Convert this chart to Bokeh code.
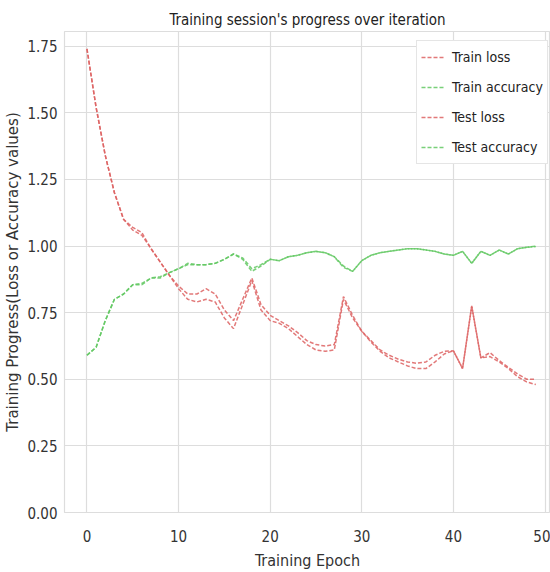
from bokeh.plotting import figure
from bokeh.models import Range1d, Legend, LegendItem, FixedTicker, CustomJSTickFormatter
from bokeh.embed import file_html
from bokeh.resources import INLINE

epochs = list(range(50))
train_loss = [1.74, 1.52, 1.34, 1.20, 1.10, 1.06, 1.04, 0.99, 0.94, 0.89,
              0.84, 0.80, 0.79, 0.80, 0.79, 0.73, 0.69, 0.78, 0.87, 0.76,
              0.72, 0.71, 0.69, 0.66, 0.63, 0.61, 0.605, 0.61, 0.80, 0.73,
              0.68, 0.64, 0.605, 0.58, 0.565, 0.55, 0.54, 0.54, 0.565, 0.595,
              0.607, 0.54, 0.775, 0.58, 0.585, 0.565, 0.54, 0.51, 0.49, 0.48]
test_loss = [1.74, 1.52, 1.34, 1.20, 1.10, 1.07, 1.05, 0.99, 0.94, 0.89,
             0.85, 0.82, 0.82, 0.84, 0.82, 0.76, 0.72, 0.80, 0.88, 0.78,
             0.74, 0.72, 0.70, 0.675, 0.645, 0.63, 0.625, 0.63, 0.81, 0.74,
             0.68, 0.645, 0.61, 0.59, 0.575, 0.565, 0.56, 0.565, 0.59, 0.605,
             0.607, 0.54, 0.775, 0.58, 0.60, 0.57, 0.545, 0.52, 0.50, 0.50]
train_acc = [0.59, 0.62, 0.72, 0.80, 0.82, 0.855, 0.855, 0.88, 0.88, 0.90,
             0.915, 0.93, 0.93, 0.93, 0.935, 0.95, 0.97, 0.955, 0.915, 0.93,
             0.95, 0.945, 0.96, 0.965, 0.975, 0.98, 0.975, 0.96, 0.925, 0.905,
             0.945, 0.965, 0.975, 0.98, 0.985, 0.99, 0.99, 0.985, 0.98, 0.97,
             0.965, 0.98, 0.935, 0.98, 0.965, 0.985, 0.97, 0.99, 0.995, 1.0]
test_acc = [0.59, 0.62, 0.72, 0.80, 0.82, 0.855, 0.86, 0.88, 0.885, 0.90,
            0.915, 0.935, 0.93, 0.93, 0.935, 0.95, 0.97, 0.95, 0.905, 0.925,
            0.95, 0.945, 0.96, 0.965, 0.975, 0.98, 0.975, 0.96, 0.92, 0.905,
            0.945, 0.965, 0.975, 0.98, 0.985, 0.99, 0.99, 0.985, 0.98, 0.97,
            0.965, 0.98, 0.935, 0.98, 0.965, 0.985, 0.97, 0.99, 0.995, 0.998]
x_ticks = [0, 10, 20, 30, 40, 50]
y_ticks = [0.0, 0.25, 0.5, 0.75, 1.0, 1.25, 1.5, 1.75]

FONT = "'DejaVu Sans Condensed', 'Liberation Sans Narrow', 'Roboto Condensed', sans-serif"
RED = "#dd6262"
GREEN = "#62c862"

p = figure(width=550, height=572, output_backend="svg", toolbar_location=None,
           x_range=Range1d(-2.45, 50.6), y_range=Range1d(0, 1.805),
           min_border_left=64, min_border_right=0, min_border_top=31,
           min_border_bottom=56)

p.title.text = "Training session's progress over iteration"
p.title.align = "center"
p.title.text_font = FONT
p.title.text_font_size = "15px"
p.title.text_font_style = "normal"
p.title.text_color = "#222222"
p.title.offset = 0
p.title.standoff = 5

r1 = p.line(epochs, train_loss, line_color=RED, line_dash="4 2", line_width=1.5, line_alpha=0.85)
r2 = p.line(epochs, train_acc, line_color=GREEN, line_dash="4 2", line_width=1.5, line_alpha=0.85)
r3 = p.line(epochs, test_loss, line_color=RED, line_dash="4 2", line_width=1.5, line_alpha=0.85)
r4 = p.line(epochs, test_acc, line_color=GREEN, line_dash="4 2", line_width=1.5, line_alpha=0.85)

legend = Legend(items=[LegendItem(label="Train loss", renderers=[r1]),
                       LegendItem(label="Train accuracy", renderers=[r2]),
                       LegendItem(label="Test loss", renderers=[r3]),
                       LegendItem(label="Test accuracy", renderers=[r4])],
                location=(352, 348))
legend.label_text_font = FONT
legend.label_text_font_size = "14px"
legend.label_text_color = "#222222"
legend.border_line_color = "#cccccc"
legend.background_fill_color = "white"
legend.background_fill_alpha = 1.0
legend.glyph_width = 24
legend.label_height = 24
legend.glyph_height = 24
legend.label_standoff = 7
legend.spacing = 6
legend.padding = 4
legend.margin = 0
p.add_layout(legend)

for ax in (p.xaxis, p.yaxis):
    ax.axis_line_color = None
    ax.major_tick_line_color = None
    ax.minor_tick_line_color = None
    ax.major_tick_out = 0
    ax.major_tick_in = 0
    ax.minor_tick_out = 0
    ax.minor_tick_in = 0
    ax.major_label_text_font = FONT
    ax.major_label_text_font_size = "15px"
    ax.major_label_text_color = "#333333"
    ax.axis_label_text_font_style = "normal"

p.xaxis.ticker = FixedTicker(ticks=x_ticks)
p.yaxis.ticker = FixedTicker(ticks=y_ticks)
p.yaxis.formatter = CustomJSTickFormatter(code="return tick.toFixed(2);")
p.xaxis.major_label_standoff = 17
p.yaxis.major_label_standoff = 7

p.xaxis.axis_label = "Training Epoch"
p.xaxis.axis_label_text_font = FONT
p.xaxis.axis_label_text_font_size = "16px"
p.xaxis.axis_label_text_color = "#333333"
p.xaxis.axis_label_standoff = 6

p.yaxis.axis_label = "Training Progress(Loss or Accuracy values)"
p.yaxis.axis_label_text_font = "DejaVu Sans"
p.yaxis.axis_label_text_font_size = "15px"
p.yaxis.axis_label_text_color = "#333333"
p.yaxis.axis_label_standoff = 2

p.xgrid.grid_line_color = "#dddddd"
p.ygrid.grid_line_color = "#dddddd"
p.xgrid.grid_line_width = 1.2
p.ygrid.grid_line_width = 1.2
p.outline_line_color = "#dddddd"
p.outline_line_width = 1.2
p.background_fill_color = "white"

open("out.html", "w").write(file_html(p, INLINE))
